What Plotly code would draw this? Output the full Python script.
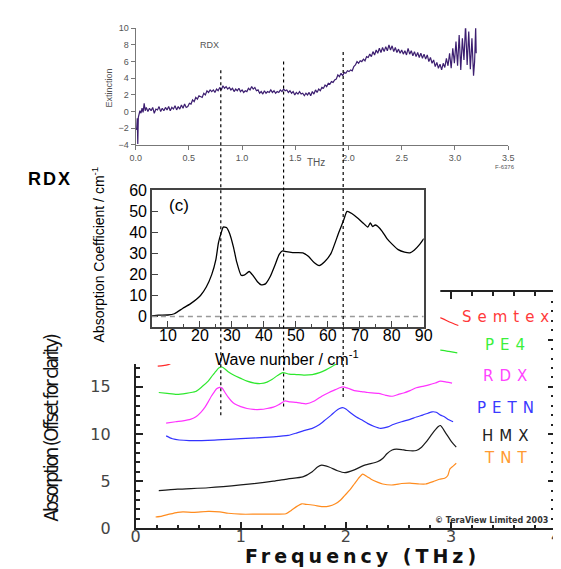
import plotly.graph_objects as go

# ---------------- data ----------------
# top panel: RDX extinction vs THz
top_thz = [0.005, 0.010, 0.015, 0.020, 0.025, 0.030, 0.040, 0.050, 0.060, 0.070, 0.080, 0.090, 0.100,
           0.115, 0.130, 0.145, 0.160, 0.175, 0.190, 0.205, 0.220, 0.235, 0.250, 0.265, 0.280, 0.295,
           0.310, 0.325, 0.340, 0.355, 0.370, 0.385, 0.400, 0.415, 0.430, 0.445, 0.460, 0.475, 0.490,
           0.505, 0.520, 0.535, 0.550, 0.565, 0.580, 0.595, 0.610, 0.625, 0.640, 0.655, 0.670, 0.685,
           0.700, 0.715, 0.730, 0.745, 0.760, 0.775, 0.790, 0.805, 0.820, 0.835, 0.850, 0.865, 0.880,
           0.895, 0.910, 0.925, 0.940, 0.955, 0.970, 0.985, 1.000, 1.015, 1.030, 1.045, 1.060, 1.075,
           1.090, 1.105, 1.120, 1.135, 1.150, 1.165, 1.180, 1.195, 1.210, 1.225, 1.240, 1.255, 1.270,
           1.285, 1.300, 1.315, 1.330, 1.345, 1.360, 1.375, 1.390, 1.405, 1.420, 1.435, 1.450, 1.465,
           1.480, 1.495, 1.510, 1.525, 1.540, 1.555, 1.570, 1.585, 1.600, 1.615, 1.630, 1.645, 1.660,
           1.675, 1.690, 1.705, 1.720, 1.735, 1.750, 1.765, 1.780, 1.795, 1.810, 1.825, 1.840, 1.855,
           1.870, 1.885, 1.900, 1.915, 1.930, 1.945, 1.960, 1.975, 1.990, 2.005, 2.020, 2.035, 2.050,
           2.065, 2.080, 2.095, 2.110, 2.125, 2.140, 2.155, 2.170, 2.185, 2.200, 2.215, 2.230, 2.245,
           2.260, 2.275, 2.290, 2.305, 2.320, 2.335, 2.350, 2.365, 2.380, 2.395, 2.410, 2.425, 2.440,
           2.455, 2.470, 2.485, 2.500, 2.515, 2.530, 2.545, 2.560, 2.575, 2.590, 2.605, 2.620, 2.635,
           2.650, 2.665, 2.680, 2.695, 2.710, 2.725, 2.740, 2.755, 2.770, 2.785, 2.800, 2.815, 2.830,
           2.845, 2.860, 2.875, 2.890, 2.905, 2.920, 2.935, 2.950, 2.965, 2.980, 2.995, 3.010, 3.025,
           3.040, 3.055, 3.070, 3.085, 3.100, 3.115, 3.130, 3.145, 3.160, 3.175, 3.185, 3.195, 3.200]
top_ext = [-2.2, -2.0, -0.8, -3.9, -0.7, -0.3, 0.1, -0.2, 0.4, -0.1, 1.0, 0.1, 0.5,
           0.0, 0.4, 0.1, 0.5, -0.2, 0.3, 0.2, 0.6, 0.0, 0.4, 0.1, 0.5, 0.2,
           0.6, 0.1, 0.5, 0.3, 0.7, 0.2, 0.6, 0.3, 0.8, 0.4, 0.9, 0.5, 0.6,
           1.0, 0.9, 1.4, 1.2, 1.7, 1.5, 1.9, 1.8, 1.7, 2.2, 2.0, 2.5, 2.3,
           2.6, 2.4, 2.6, 2.3, 2.7, 2.5, 2.9, 2.6, 3.1, 2.8, 3.0, 2.7, 2.9,
           2.6, 2.8, 2.4, 2.7, 2.5, 2.8, 2.4, 2.6, 2.3, 2.5, 2.4, 2.8, 2.6,
           3.0, 2.7, 2.9, 2.5, 2.6, 2.2, 2.4, 2.1, 2.5, 2.2, 2.4, 2.3, 2.6,
           2.3, 2.5, 2.2, 2.4, 2.3, 2.6, 2.4, 2.7, 2.5, 2.6, 2.3, 2.5, 2.2,
           2.4, 2.0, 2.3, 2.1, 2.4, 2.1, 2.2, 1.9, 2.2, 2.0, 2.3, 1.9, 2.4,
           2.1, 2.6, 2.3, 2.7, 2.5, 2.9, 2.8, 3.2, 3.0, 3.4, 3.3, 3.6, 3.5,
           3.8, 3.9, 4.4, 4.2, 4.6, 4.3, 4.7, 4.6, 4.9, 4.8, 5.0, 4.9, 5.4,
           5.6, 6.0, 5.8, 6.1, 6.0, 6.3, 6.1, 6.6, 6.5, 6.9, 6.6, 7.2, 6.8,
           7.4, 7.0, 7.6, 7.1, 7.7, 7.2, 7.8, 7.3, 8.0, 7.4, 7.9, 7.2, 7.7,
           7.1, 7.5, 7.0, 7.4, 6.9, 7.3, 6.8, 7.6, 6.9, 7.3, 6.7, 7.2, 6.6,
           7.1, 6.5, 7.0, 6.4, 6.9, 6.3, 6.8, 6.0, 6.5, 5.8, 6.2, 5.4, 5.9,
           5.2, 5.7, 5.0, 5.8, 5.3, 6.4, 5.5, 7.0, 5.2, 7.6, 5.8, 8.4, 5.5,
           9.2, 5.0, 8.8, 6.2, 10.4, 5.6, 9.6, 5.1, 8.8, 4.3, 6.0, 10.2, 7.0]
top_label = "RDX"
feature_thz = [0.8, 1.39, 1.95]

# inset: absorption coefficient vs wave number
wn = [5, 7, 10, 12, 14.6, 17, 20.2, 22, 23.7, 25, 25.8, 26.6, 27.3, 28.3, 29.3, 30.5, 31.5, 32.9,
      34, 35.4, 36.6, 38, 39.2, 40.5, 42, 43.5, 44.8, 45.8, 47, 49, 52.2, 54, 55.8, 57.3, 59, 61,
      63.4, 65, 66, 67.5, 69.5, 71, 72.5, 73.3, 74, 74.8, 75.5, 77, 78.5, 80.1, 82, 84, 85.7, 87,
      88.8, 89.8, 90]
abs_coef = [0.3, 0.6, 0.7, 1.3, 3.8, 6.0, 10.0, 14.0, 19.9, 27.0, 35.0, 39.5, 42.5, 42.3, 39.5, 33.0,
            26.0, 19.6, 19.8, 21.4, 19.5, 16.5, 15.0, 15.5, 19.0, 24.5, 29.5, 31.2, 30.8, 30.4, 30.3,
            28.5, 25.5, 24.2, 26.0, 30.0, 39.8, 46.0, 50.0, 49.0, 46.6, 44.5, 42.5, 44.5, 42.8, 43.5,
            43.0, 40.5, 37.0, 34.4, 31.8, 30.6, 30.3, 31.5, 34.4, 36.5, 37.0]

# bottom panel: offset absorption spectra
tnt_thz = [0.19, 0.25, 0.32, 0.4, 0.45, 0.55, 0.69, 0.8, 0.88, 1.0, 1.15, 1.31, 1.43, 1.48, 1.53, 1.58,
           1.62, 1.7, 1.77, 1.84, 1.9, 1.95, 1.99, 2.04, 2.08, 2.12, 2.16, 2.2, 2.24, 2.3, 2.35, 2.45,
           2.53, 2.61, 2.7, 2.76, 2.83, 2.89, 2.94, 2.97, 2.99, 3.02, 3.05]
tnt_abs = [1.2, 1.3, 1.5, 1.7, 1.75, 1.7, 1.8, 1.75, 1.6, 1.5, 1.5, 1.5, 1.55, 1.9, 2.3, 2.6,
           2.55, 2.45, 2.3, 2.35, 2.6, 3.0, 3.5, 4.1, 4.7, 5.3, 5.75, 5.5, 5.2, 4.9, 4.7, 4.6,
           4.75, 4.8, 4.7, 4.7, 4.95, 5.2, 5.3, 5.6, 6.3, 6.6, 6.9]
hmx_thz = [0.22, 0.4, 0.69, 1.0, 1.31, 1.45, 1.59, 1.68, 1.73, 1.77, 1.84, 1.92, 1.99, 2.08, 2.18,
           2.3, 2.35, 2.39, 2.44, 2.48, 2.53, 2.58, 2.67, 2.72, 2.76, 2.8, 2.84, 2.88, 2.9, 2.95,
           3.01, 3.05]
hmx_abs = [4.0, 4.15, 4.3, 4.6, 5.0, 5.25, 5.45, 6.0, 6.5, 6.7, 6.5, 6.1, 5.9, 6.2, 6.7,
           7.05, 7.4, 7.9, 8.3, 8.4, 8.35, 8.25, 8.25, 8.6, 9.1, 9.7, 10.3, 10.8, 10.9, 10.1,
           9.1, 8.6]
petn_thz = [0.29, 0.35, 0.51, 0.75, 1.0, 1.31, 1.45, 1.53, 1.6, 1.68, 1.75, 1.81, 1.86, 1.9, 1.94,
            1.97, 2.0, 2.05, 2.1, 2.15, 2.21, 2.27, 2.33, 2.4, 2.45, 2.53, 2.61, 2.67, 2.73, 2.78,
            2.82, 2.86, 2.9, 2.94, 2.98, 3.02]
petn_abs = [9.8, 9.5, 9.3, 9.35, 9.5, 9.7, 9.85, 10.1, 10.35, 10.6, 11.0, 11.55, 12.0, 12.4, 12.7,
            12.8, 12.65, 12.2, 11.8, 11.5, 11.1, 10.8, 10.6, 10.75, 11.0, 11.3, 11.55, 11.8, 12.0,
            12.2, 12.35, 12.3, 12.0, 11.8, 11.5, 11.3]
rdx_thz = [0.29, 0.38, 0.45, 0.52, 0.57, 0.62, 0.66, 0.69, 0.72, 0.75, 0.77, 0.8, 0.82, 0.85, 0.88,
           0.91, 0.94, 1.0, 1.06, 1.12, 1.19, 1.25, 1.31, 1.36, 1.42, 1.47, 1.53, 1.58, 1.62, 1.7,
           1.77, 1.84, 1.9, 1.94, 1.97, 2.02, 2.08, 2.15, 2.21, 2.31, 2.38, 2.44, 2.5, 2.55, 2.61,
           2.67, 2.73, 2.79, 2.85, 2.9, 2.96, 3.01]
rdx_abs = [11.15, 11.3, 11.4, 11.55, 11.8, 12.3, 12.85, 13.4, 14.0, 14.5, 14.8, 14.95, 14.9, 14.4,
           13.9, 13.5, 13.2, 12.9, 12.7, 12.6, 12.6, 12.7, 12.85, 13.1, 13.5, 13.4, 13.35, 13.25,
           13.2, 13.5, 14.0, 14.4, 14.7, 14.9, 15.0, 14.85, 14.6, 14.5, 14.4, 14.3, 14.1, 14.0,
           14.2, 14.35, 14.6, 14.9, 15.05, 15.2, 15.4, 15.6, 15.5, 15.4]
pe4_thz = [0.22, 0.3, 0.39, 0.48, 0.57, 0.63, 0.69, 0.73, 0.76, 0.79, 0.82, 0.85, 0.88, 0.94, 1.0,
           1.06, 1.13, 1.19, 1.25, 1.3, 1.35, 1.4, 1.46, 1.53, 1.6, 1.68, 1.75, 1.81, 1.86, 1.89,
           1.95, 2.0, 2.1, 2.2, 2.3, 2.4, 2.5, 2.6, 2.7, 2.8, 2.9, 2.98, 3.06]
pe4_abs = [14.4, 14.3, 14.2, 14.3, 14.5, 15.0, 15.6, 16.2, 16.6, 17.0, 17.1, 16.9, 16.6, 16.2, 15.9,
           15.6, 15.4, 15.35, 15.5, 15.8, 16.2, 16.5, 16.35, 16.3, 16.25, 16.3, 16.5, 16.8, 17.1,
           17.3, 17.8, 18.0, 17.8, 17.7, 17.6, 17.7, 17.9, 18.1, 18.4, 18.7, 18.9, 18.75, 18.6]
semtex_thz = [0.21, 0.26, 0.31, 0.4, 0.6, 0.8, 1.0, 1.4, 1.9, 2.3, 2.6, 2.8, 2.9, 2.98, 3.07]
semtex_abs = [17.2, 17.25, 17.35, 17.8, 18.5, 20.0, 19.2, 19.8, 21.5, 21.0, 21.6, 22.3, 22.3, 21.9, 21.5]

series_names = ["Semtex", "PE4", "RDX", "PETN", "HMX", "TNT"]
series_x = [semtex_thz, pe4_thz, rdx_thz, petn_thz, hmx_thz, tnt_thz]
series_y = [semtex_abs, pe4_abs, rdx_abs, petn_abs, hmx_abs, tnt_abs]
series_colors = ["#ff2a2a", "#2ee82e", "#ff33ff", "#3333ff", "#1a1a1a", "#ff8c1f"]
label_colors = ["#ff3a3a", "#3cf03c", "#ff44ff", "#3a3aff", "#222222", "#ff9a33"]

# ---------------- layout helpers (pixel -> paper) ----------------
W, H = 561, 569
def px(x):
    return x / W
def py(y):
    return 1 - y / H

fig = go.Figure()

# 1) top panel
fig.add_trace(go.Scatter(x=top_thz, y=top_ext, mode="lines", xaxis="x", yaxis="y",
                         line=dict(color="#3c1e70", width=1.2), hoverinfo="skip"))
# 2) bottom panel
for name, xs, ys, c in zip(series_names, series_x, series_y, series_colors):
    fig.add_trace(go.Scatter(x=xs, y=ys, mode="lines", name=name, xaxis="x2", yaxis="y2",
                             line=dict(color=c, width=1.2, shape="spline", smoothing=0.6),
                             hoverinfo="skip"))
# 3) white cover (pasted inset background)
fig.add_trace(go.Scatter(x=[None], y=[None], xaxis="x3", yaxis="y3", hoverinfo="skip"))
# 4) inset
fig.add_trace(go.Scatter(x=wn, y=abs_coef, mode="lines", xaxis="x4", yaxis="y4",
                         line=dict(color="black", width=1.3, shape="spline", smoothing=0.5),
                         hoverinfo="skip"))

top_font = dict(family="Liberation Sans, Arial", size=9, color="#555")
ins_font = dict(family="Liberation Sans, Arial", size=16, color="black")
bot_font = dict(family="DejaVu Sans", size=16, color="#444")

fig.update_layout(
    width=W, height=H, autosize=False,
    margin=dict(l=0, r=0, t=0, b=0),
    paper_bgcolor="white", plot_bgcolor="white",
    showlegend=False,
    xaxis=dict(domain=[px(125), px(507.7)], range=[0, 3.5], anchor="y", dtick=0.5, tick0=0,
               tickformat=".1f", showline=True, linecolor="#777", linewidth=1,
               ticks="outside", ticklen=4, tickcolor="#777", tickfont=top_font,
               showgrid=False, zeroline=False),
    yaxis=dict(domain=[py(132.3), py(11.7)], range=[-4, 10], anchor="x", dtick=2, tick0=0,
               showline=True, linecolor="#777", linewidth=1, ticks="outside", ticklen=4,
               tickcolor="#777", tickfont=top_font, showgrid=False, zeroline=False),
    xaxis2=dict(domain=[px(125), px(557)], range=[0, 4], anchor="y2", dtick=1, tick0=0,
                showline=True, linecolor="#222", linewidth=1.5, mirror="allticks",
                ticks="inside", ticklen=7, tickwidth=1.5, tickcolor="#222", tickfont=bot_font,
                ticklabelstandoff=-7,
                minor=dict(dtick=0.2, ticks="inside", ticklen=4, tickcolor="#222", showgrid=False),
                showgrid=False, zeroline=False),
    yaxis2=dict(domain=[py(529), py(285)], range=[0, 25], anchor="x2", dtick=5, tick0=0,
                showline=True, linecolor="#222", linewidth=1.5, mirror="allticks",
                ticks="inside", ticklen=8, tickwidth=1.5, tickcolor="#222", tickfont=bot_font,
                ticklabelstandoff=20,
                minor=dict(dtick=1, ticks="inside", ticklen=5, tickcolor="#222", showgrid=False),
                showgrid=False, zeroline=False),
    xaxis3=dict(domain=[px(62), px(438)], range=[0, 1], anchor="y3", visible=False),
    yaxis3=dict(domain=[py(359), py(163)], range=[0, 1], anchor="x3", visible=False),
    xaxis4=dict(domain=[px(141.7), px(421)], range=[5, 90], anchor="y4", dtick=10, tick0=10,
                showline=True, linecolor="#444", linewidth=1.5, mirror=True,
                ticks="inside", ticklen=6, tickcolor="#444", tickfont=ins_font,
                ticklabelstandoff=-7,
                minor=dict(dtick=5, ticks="inside", ticklen=3, tickcolor="#444", showgrid=False),
                showgrid=False, zeroline=False),
    yaxis4=dict(domain=[py(320.7), py(179.3)], range=[-5, 60], anchor="x4", dtick=10, tick0=0,
                showline=True, linecolor="#444", linewidth=1.5, mirror=True,
                ticks="inside", ticklen=6, tickcolor="#444", tickfont=ins_font,
                showgrid=False, zeroline=False),
)

shapes = []
# grey dashed zero line of the inset
shapes.append(dict(type="line", xref="x4", yref="y4", x0=5, x1=90, y0=0, y1=0,
                   line=dict(color="#999", width=1.5, dash="5px,4px"), layer="above"))
# dashed feature lines running through all panels
line_tops = [53, 45, 34]
line_bottoms = [412, 403, 393]
for f, t, b in zip(feature_thz, line_tops, line_bottoms):
    shapes.append(dict(type="line", xref="x", yref="paper", x0=f, x1=f, y0=py(b), y1=py(t),
                       line=dict(color="black", width=1.2, dash="3px,3px"), layer="above"))
fig.update_layout(shapes=shapes)

ann = []
def A(text, x, y, size, color="black", family="Liberation Sans, Arial", angle=0, bold=False):
    if bold:
        text = "<b>" + text + "</b>"
    ann.append(dict(text=text, x=px(x), y=py(y), xref="paper", yref="paper",
                    xanchor="center", yanchor="middle", showarrow=False, textangle=angle,
                    font=dict(family=family, size=size, color=color)))

# top panel texts
A(top_label, 200.7, 29.3, 9, "#555")
A("Extinction", 97.5, 73, 9, "#555", angle=-90)
A("THz", 310, 151, 10, "#555")
A("F-6376", 505, 155, 6, "#555")
# middle texts
A('<span style="letter-spacing:2px">RDX</span>', 37, 168, 18, bold=True)
A("(c)", 170, 195, 17)
A("Absorption Coefficient / cm<sup>-1</sup>", 86, 246, 14, angle=-90)
A("Wave number / cm<sup>-1</sup>", 280, 353, 16)
# bottom panel texts
A('<span style="letter-spacing:4px">Frequency (THz)</span>', 358, 558, 19, "#111",
  family="DejaVu Sans", bold=True)
A('<span style="letter-spacing:-2.5px">Absorption (Offset for clarity)</span>', 38, 425, 20, "#111",
  family="Liberation Sans Narrow, DejaVu Sans Condensed", angle=-90)
label_y = [310, 339, 371, 405, 433, 456]
for name, c, yy in zip(series_names, label_colors, label_y):
    A('<span style="letter-spacing:6px">' + name + '</span>', 508, yy, 15, c, family="DejaVu Sans")
A("© TeraView Limited 2003", 491, 521, 8, "#333", family="DejaVu Sans", bold=True)
fig.update_layout(annotations=ann)

fig.write_html("out.html")
